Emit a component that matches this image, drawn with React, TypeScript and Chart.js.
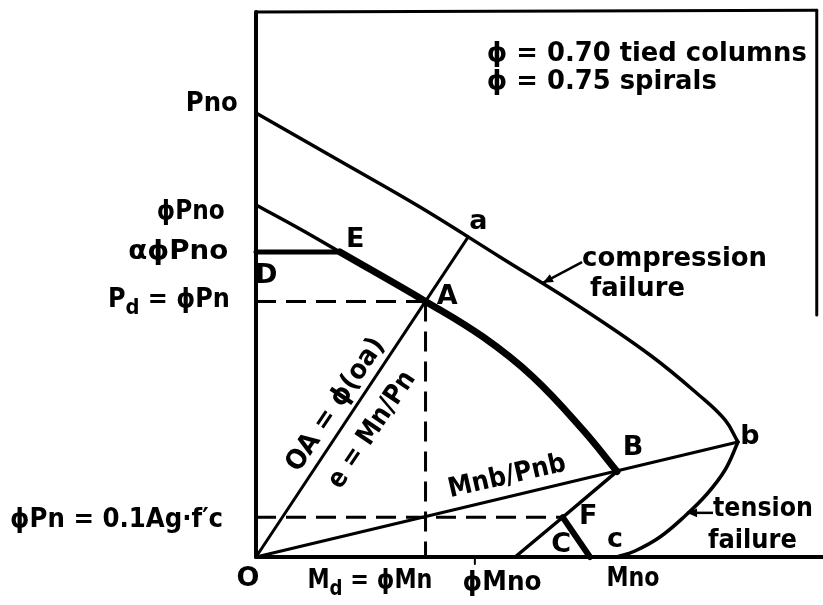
import React, { useEffect, useRef } from 'react';
import { Chart, registerables } from 'chart.js';
Chart.register(...registerables);

// Interaction diagram: moment M (x) vs axial load P (y), arbitrary units 0..100
// Nominal strength curve, compression-failure branch (Pno -> a -> b)
const OUTER_M = [0, 14.81, 28.92, 43.03, 57.14, 69.49, 78.31, 82.72, 85.01];
const OUTER_P = [81.47, 72.66, 64.22, 55.05, 45.87, 37.06, 29.54, 25.14, 21.1];
// Nominal strength curve, tension-failure branch (c = Mno -> b)
const TENSION_M = [63.67, 66.84, 71.25, 75.66, 79.54, 82.72, 85.01];
const TENSION_P = [0, 1.1, 3.67, 7.52, 11.56, 15.96, 21.1];
// Design curve (phi * nominal), thin part phiPno -> E
const DESIGN_THIN_M = [0, 7.76, 14.81];
const DESIGN_THIN_P = [64.59, 60.18, 55.96];
// Design curve, thick part E -> A -> B
const DESIGN_THICK_M = [14.81, 29.9, 40.04, 48.85, 57.67, 63.67];
const DESIGN_THICK_P = [55.96, 46.9, 40.37, 33.03, 23.3, 15.7];
// Lower design branch B -> F -> phiMno
const LOWER_M = [63.67, 54.1, 45.7];
const LOWER_P = [15.7, 7.3, 0];
// Thick transition F -> C
const TRANSITION_M = [54.1, 58.9];
const TRANSITION_P = [7.3, 0];
// Cut-off D -> E (alpha phi Pno)
const CUTOFF_M = [0, 14.81];
const CUTOFF_P = [55.96, 55.96];
// Radial lines from origin
const OA_M = [0, 37.4];
const OA_P = [0, 58.7];
const OB_M = [0, 85.01];
const OB_P = [0, 21.1];
// Dashed construction lines
const PD_M = [0, 29.9];
const PD_P = [46.9, 46.9];
const MD_M = [29.9, 29.9];
const MD_P = [46.9, 0];
const PMIN_M = [0, 54.1];
const PMIN_P = [7.3, 7.3];
// Frame / axes
const AXIS_Y_M = [0, 0];
const AXIS_Y_P = [0, 100];
const AXIS_X_M = [0, 100];
const AXIS_X_P = [0, 0];
const FRAME_TOP_M = [0, 98.9];
const FRAME_TOP_P = [100, 100.3];
const FRAME_RIGHT_M = [98.9, 98.9];
const FRAME_RIGHT_P = [100.3, 44.4];
const TICK_M = [38.6, 38.6];
const TICK_P = [0, -1.3];

// Annotation texts (position in data units)
const LABELS = [
  { t: 'Pno', m: -3.2, p: 83.1, align: 'right', w: 52 },
  { t: 'ϕPno', m: -5.5, p: 63.3, align: 'right', w: 68 },
  { t: 'αϕPno', m: -4.9, p: 56.0, align: 'right', w: 100 },
  { t: 'P_{d} = ϕPn', m: -4.6, p: 47.2, align: 'right', w: 122 },
  { t: 'ϕPn = 0.1Ag·f′c', m: -5.8, p: 6.8, align: 'right', w: 213 },
  { t: 'D', m: 1.8, p: 51.6, align: 'center' },
  { t: 'E', m: 17.5, p: 58.2, align: 'center' },
  { t: 'a', m: 39.2, p: 61.5, align: 'center' },
  { t: 'A', m: 33.7, p: 47.7, align: 'center' },
  { t: 'B', m: 66.5, p: 20.0, align: 'center' },
  { t: 'b', m: 87.1, p: 22.0, align: 'center' },
  { t: 'F', m: 58.6, p: 7.3, align: 'center' },
  { t: 'C', m: 53.8, p: 2.2, align: 'center' },
  { t: 'c', m: 63.3, p: 3.1, align: 'center' },
  { t: 'O', m: -1.4, p: -4.0, align: 'center' },
  { t: 'M_{d} = ϕMn', m: 20.1, p: -4.4, align: 'center', w: 125 },
  { t: 'ϕMno', m: 43.4, p: -4.8, align: 'center', w: 79 },
  { t: 'Mno', m: 66.5, p: -4.0, align: 'center', w: 53 },
  { t: 'compression', m: 57.5, p: 54.7, align: 'left', w: 185 },
  { t: 'failure', m: 58.9, p: 49.2, align: 'left', w: 95 },
  { t: 'tension', m: 80.6, p: 8.8, align: 'left', w: 100 },
  { t: 'failure', m: 79.7, p: 2.9, align: 'left', w: 89 },
  { t: 'ϕ = 0.70 tied columns', m: 40.7, p: 92.3, align: 'left', w: 320 },
  { t: 'ϕ = 0.75 spirals', m: 40.7, p: 87.1, align: 'left', w: 230 },
  { t: 'OA = ϕ(oa)', m: 14.1, p: 27.9, align: 'center', w: 155, angle: -56 },
  { t: 'e = Mn/Pn', m: 20.5, p: 23.3, align: 'center', w: 135, angle: -56 },
  { t: 'Mnb/Pnb', m: 44.3, p: 14.7, align: 'center', w: 120, angle: -13 },
];

const ARROWS = [
  { m1: 57.5, p1: 54.1, m2: 50.6, p2: 50.3 },
  { m1: 80.6, p1: 8.1, m2: 76.0, p2: 8.1 },
];

const zip = (m: number[], p: number[]) => m.map((v, i) => ({ x: v, y: p[i] }));

const FONT = '"DejaVu Sans", "Liberation Sans", sans-serif';
const FS = 27;
const WEIGHT = 'bold';

function measureRich(ctx: CanvasRenderingContext2D, text: string) {
  const parts: { s: string; sub: boolean }[] = [];
  const re = /_\{([^}]*)\}/g;
  let last = 0;
  let mm: RegExpExecArray | null;
  while ((mm = re.exec(text))) {
    if (mm.index > last) parts.push({ s: text.slice(last, mm.index), sub: false });
    parts.push({ s: mm[1], sub: true });
    last = mm.index + mm[0].length;
  }
  if (last < text.length) parts.push({ s: text.slice(last), sub: false });
  return parts.map((pt) => {
    ctx.font = `${WEIGHT} ${pt.sub ? Math.round(FS * 0.8) : FS}px ${FONT}`;
    return { ...pt, w: ctx.measureText(pt.s).width };
  });
}

const annotationPlugin = {
  id: 'annotations',
  afterDatasetsDraw(chart: any) {
    const ctx: CanvasRenderingContext2D = chart.ctx;
    const xs = chart.scales.x;
    const ys = chart.scales.y;
    ctx.save();
    ctx.fillStyle = '#000';
    ctx.strokeStyle = '#000';
    for (const a of ARROWS) {
      const x1 = xs.getPixelForValue(a.m1);
      const y1 = ys.getPixelForValue(a.p1);
      const x2 = xs.getPixelForValue(a.m2);
      const y2 = ys.getPixelForValue(a.p2);
      ctx.lineWidth = 2.5;
      ctx.beginPath();
      ctx.moveTo(x1, y1);
      ctx.lineTo(x2, y2);
      ctx.stroke();
      const ang = Math.atan2(y2 - y1, x2 - x1);
      const L = 11;
      ctx.beginPath();
      ctx.moveTo(x2, y2);
      ctx.lineTo(x2 - L * Math.cos(ang - 0.4), y2 - L * Math.sin(ang - 0.4));
      ctx.lineTo(x2 - L * Math.cos(ang + 0.4), y2 - L * Math.sin(ang + 0.4));
      ctx.closePath();
      ctx.fill();
    }
    ctx.textBaseline = 'middle';
    ctx.textAlign = 'left';
    for (const lb of LABELS as any[]) {
      const px = xs.getPixelForValue(lb.m);
      const py = ys.getPixelForValue(lb.p);
      const parts = measureRich(ctx, lb.t);
      const total = parts.reduce((s, p) => s + p.w, 0);
      const sx = lb.w ? lb.w / total : 1;
      const drawnW = total * sx;
      ctx.save();
      ctx.translate(px, py);
      if (lb.angle) ctx.rotate((lb.angle * Math.PI) / 180);
      let start = 0;
      if (lb.align === 'right') start = -drawnW;
      else if (lb.align === 'center') start = -drawnW / 2;
      ctx.translate(start, 0);
      ctx.scale(sx, 1);
      let cx = 0;
      for (const pt of parts) {
        ctx.font = `${WEIGHT} ${pt.sub ? Math.round(FS * 0.8) : FS}px ${FONT}`;
        ctx.fillText(pt.s, cx, pt.sub ? FS * 0.3 : 0);
        cx += pt.w;
      }
      ctx.restore();
    }
    ctx.restore();
  },
};

const whiteBg = {
  id: 'whiteBg',
  beforeDraw(chart: any) {
    const c = chart.ctx;
    c.save();
    c.fillStyle = '#fff';
    c.fillRect(0, 0, chart.width, chart.height);
    c.restore();
  },
};

function line(m: number[], p: number[], width: number, extra: any = {}) {
  return {
    data: zip(m, p),
    showLine: true,
    borderColor: '#000',
    backgroundColor: '#000',
    borderWidth: width,
    pointRadius: 0,
    pointHoverRadius: 0,
    fill: false,
    clip: false,
    borderCapStyle: 'round',
    borderJoinStyle: 'round',
    tension: 0,
    ...extra,
  };
}

export default function App() {
  const ref = useRef<HTMLCanvasElement | null>(null);
  useEffect(() => {
    if (!ref.current) return;
    const dash = { borderDash: [20, 10], borderCapStyle: 'butt' };
    const smooth = { tension: 0.4 };
    const chart = new Chart(ref.current, {
      type: 'scatter',
      data: {
        datasets: [
          line(AXIS_Y_M, AXIS_Y_P, 4),
          line(AXIS_X_M, AXIS_X_P, 4),
          line(FRAME_TOP_M, FRAME_TOP_P, 3),
          line(FRAME_RIGHT_M, FRAME_RIGHT_P, 3),
          line(TICK_M, TICK_P, 2),
          line(OUTER_M, OUTER_P, 3.5, smooth),
          line(TENSION_M, TENSION_P, 3.5, smooth),
          line(DESIGN_THIN_M, DESIGN_THIN_P, 3.5, smooth),
          line(DESIGN_THICK_M, DESIGN_THICK_P, 7, smooth),
          line(LOWER_M, LOWER_P, 3.5),
          line(TRANSITION_M, TRANSITION_P, 6),
          line(CUTOFF_M, CUTOFF_P, 5),
          line(OA_M, OA_P, 3),
          line(OB_M, OB_P, 3),
          line(PD_M, PD_P, 3, dash),
          line(MD_M, MD_P, 3, dash),
          line(PMIN_M, PMIN_P, 3, dash),
        ] as any,
      },
      options: {
        animation: false,
        responsive: false,
        events: [],
        layout: { padding: { left: 256, right: 0, top: 12, bottom: 48 } },
        plugins: { legend: { display: false }, tooltip: { enabled: false } },
        scales: {
          x: { type: 'linear', min: 0, max: 100, display: false },
          y: { type: 'linear', min: 0, max: 100, display: false },
        },
      } as any,
      plugins: [whiteBg, annotationPlugin],
    });
    return () => chart.destroy();
  }, []);
  return (
    <div style={{ position: 'fixed', left: 0, top: 0, width: 823, height: 605, background: '#fff' }}>
      <canvas ref={ref} width={823} height={605} style={{ display: 'block' }} />
    </div>
  );
}
